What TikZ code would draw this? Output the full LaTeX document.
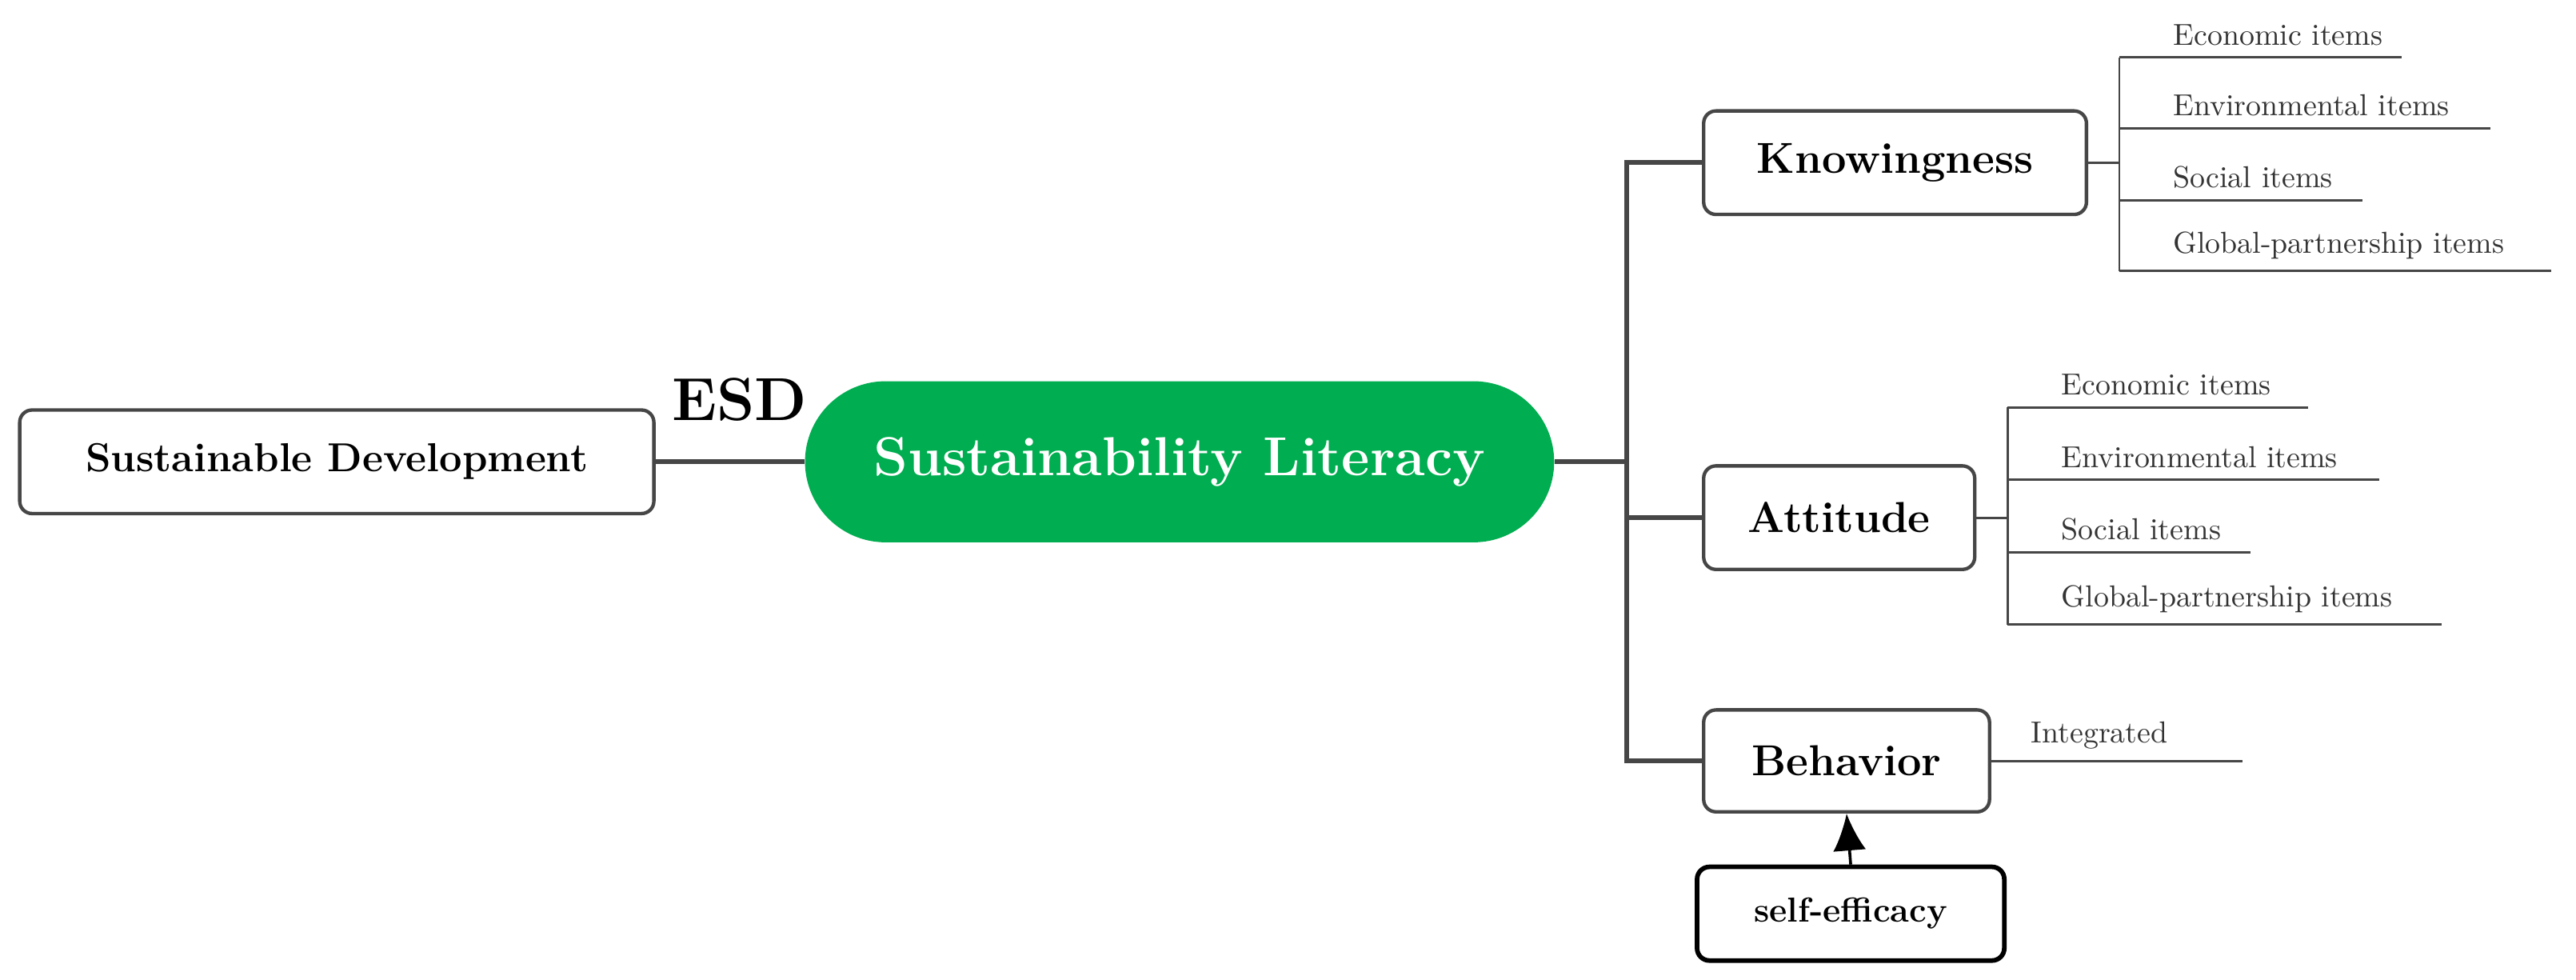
\documentclass[tikz,border=0pt]{standalone}
\usepackage{tikz}
\usetikzlibrary{arrows.meta}
\definecolor{litgreen}{RGB}{0,173,80}
\definecolor{linegray}{RGB}{70,70,70}
\begin{document}
\begin{tikzpicture}[x=0.2mm,y=-0.2mm,
  box/.style={shape=rectangle,rounded corners=1.5mm,draw=linegray,line width=1.2pt,inner sep=0pt,font=\fontsize{15}{17}\selectfont\bfseries},
  pill/.style={shape=rectangle,rounded corners=9.8mm,fill=litgreen,text=white,inner sep=0pt,minimum width=91.2mm,minimum height=19.6mm,font=\fontsize{19}{21}\selectfont\bfseries},
  trunk/.style={draw=linegray,line width=1.6pt},
  twig/.style={draw=linegray,line width=0.8pt},
  item/.style={anchor=south west,inner sep=0pt,font=\fontsize{10.5}{12}\selectfont,text=black!80}]
\useasboundingbox (0,0) rectangle (1568,596);
\def\kx{1290};
\def\ax{1222};

% main nodes
\node[box,minimum width=77.2mm,minimum height=12.6mm,font=\fontsize{14}{16}\selectfont\bfseries] (SD) at (205,281) {Sustainable Development};
\node[pill] (SL) at (718,281) {Sustainability Literacy};
\node[font=\fontsize{21}{23}\selectfont\bfseries] (ESD) at (450,243) {ESD};
\draw[trunk] (SD.east) -- (SL.west);

\node[box,minimum width=46.6mm,minimum height=12.6mm] (K) at (1153.5,99) {Knowingness};
\node[box,minimum width=33mm,minimum height=12.6mm] (A) at (1119.5,315) {Attitude};
\node[box,minimum width=34.8mm,minimum height=12.4mm] (B) at (1124,463) {Behavior};
\node[box,draw=black,line width=1.6pt,minimum width=37.4mm,minimum height=11.4mm,font=\fontsize{12}{14}\selectfont\bfseries] (SE) at (1126.5,556) {self-efficacy};

\coordinate (hub) at (990,281);
\draw[trunk] (SL.east) -- (hub);
\draw[trunk] (K.west) -| (hub) |- (B.west);
\draw[trunk] (A.west) -- (A.west -| hub);
\draw[line width=1pt,-{Latex[length=4.5mm,width=4mm]}] (SE.north) -- (B.south);

% Knowingness items
\coordinate (ke) at (1462,35);
\coordinate (kv) at (1516,78);
\coordinate (ks) at (1438,122);
\coordinate (kg) at (1553,165);
\draw[twig] (K.east) -- (K.east -| \kx,0);
\draw[twig] (\kx,35) -- (\kx,165);
\foreach \c/\t in {ke/Economic items,kv/Environmental items,ks/Social items,kg/Global-partnership items}{
  \draw[twig] (\c -| \kx,0) -- (\c);
  \node[item] at ([xshift=6.5mm,yshift=1.4mm]\c -| \kx,0) {\t};
}

% Attitude items
\coordinate (ae) at (1405,248);
\coordinate (av) at (1448,292);
\coordinate (as) at (1370,336);
\coordinate (ag) at (1486,380);
\draw[twig] (A.east) -- (A.east -| \ax,0);
\draw[twig] (\ax,248) -- (\ax,380);
\foreach \c/\t in {ae/Economic items,av/Environmental items,as/Social items,ag/Global-partnership items}{
  \draw[twig] (\c -| \ax,0) -- (\c);
  \node[item] at ([xshift=6.5mm,yshift=1.4mm]\c -| \ax,0) {\t};
}

% Behavior item
\coordinate (bi) at (1365,463);
\draw[twig] (B.east) -- (bi);
\node[item] at ([xshift=4.8mm,yshift=1.4mm]B.east) {Integrated};
\end{tikzpicture}
\end{document}
